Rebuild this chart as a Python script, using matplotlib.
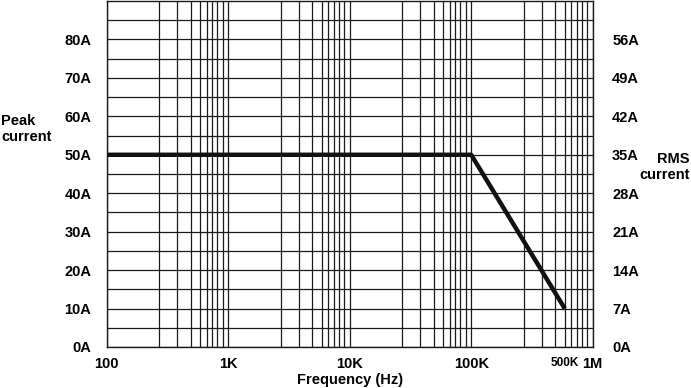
import numpy as np
import matplotlib
matplotlib.use("Agg")
import matplotlib.pyplot as plt
from matplotlib.ticker import FixedLocator, NullFormatter

plt.rcParams['font.family'] = ['Liberation Sans', 'DejaVu Sans']
plt.rcParams['font.weight'] = 'bold'

# Data
freq_hz = [100, 100e3, 500e3]
peak_current_a = [50, 50, 10]
x_tick_values = [100, 1e3, 1e4, 1e5, 5e5, 1e6]
x_tick_labels = ["100", "1K", "10K", "100K", "500K", "1M"]
left_ticks = [0, 10, 20, 30, 40, 50, 60, 70, 80]
left_labels = ["0A", "10A", "20A", "30A", "40A", "50A", "60A", "70A", "80A"]
right_ticks = [0, 7, 14, 21, 28, 35, 42, 49, 56]
right_labels = ["0A", "7A", "14A", "21A", "28A", "35A", "42A", "49A", "56A"]

# Hand-drawn log grid of the original: mantissa -> fraction of decade
mant = np.array([1, 2, 3, 4, 5, 6, 7, 8, 9, 10], dtype=float)
frac = np.array([0, 0.433, 0.581, 0.691, 0.770, 0.823, 0.869, 0.910, 0.955, 1.0])

def fwd(x):
    x = np.clip(np.asarray(x, dtype=float), 1e-12, None)
    l = np.log10(x)
    d = np.floor(l + 1e-12)
    m = 10 ** (l - d)
    return d + np.interp(m, mant, frac)

def inv(y):
    y = np.asarray(y, dtype=float)
    d = np.floor(y + 1e-12)
    f = y - d
    return np.interp(f, frac, mant) * 10 ** d

FS = 10.5

fig = plt.figure(figsize=(6.91, 3.88), dpi=100)
ax = fig.add_axes([106.7/691, 1 - 347/388, (592.7-106.7)/691, (347-1)/388])
ax.set_xscale('function', functions=(fwd, inv))
ax.set_xlim(100, 1e6)
ax.set_ylim(0, 90)

minor = [k * 10 ** d for d in range(2, 6) for k in range(2, 10)]
ax.xaxis.set_major_locator(FixedLocator(x_tick_values))
ax.xaxis.set_minor_locator(FixedLocator(minor))
ax.xaxis.set_minor_formatter(NullFormatter())
ax.set_xticklabels(x_tick_labels)
ax.set_yticks(left_ticks)
ax.set_yticklabels(left_labels)
ax.yaxis.set_minor_locator(FixedLocator(list(range(5, 90, 10))))

ax.grid(True, which='both', color='#1a1a1a', linewidth=0.9)
ax.tick_params(axis='both', which='both', length=0)
ax.tick_params(axis='y', pad=11, labelsize=FS)
ax.tick_params(axis='x', pad=7, labelsize=FS)
for lbl in ax.get_xticklabels():
    lbl.set_fontweight('bold')
    if lbl.get_text() == "500K":
        lbl.set_fontsize(8.5)
for lbl in ax.get_yticklabels():
    lbl.set_fontweight('bold')
for s in ax.spines.values():
    s.set_color('#1a1a1a')
    s.set_linewidth(1.0)

ax.plot(freq_hz, peak_current_a, color='#111111', linewidth=3.2, solid_capstyle='butt', zorder=5)

ax2 = ax.twinx()
ax2.set_ylim(0, 63)
ax2.set_yticks(right_ticks)
ax2.set_yticklabels(right_labels, fontweight='bold')
ax2.tick_params(axis='y', length=0, pad=14, labelsize=FS)
for s in ax2.spines.values():
    s.set_visible(False)

fig.text(0.5 * (106.7 + 592.7) / 691, 1 - 380/388, "Frequency (Hz)",
         ha='center', va='center', fontsize=FS, fontweight='bold')
fig.text(1/691, 1 - 129/388, "Peak\ncurrent", ha='left', va='center',
         fontsize=FS, fontweight='bold', linespacing=1.2)
fig.text(690/691, 1 - 167/388, "RMS\ncurrent", ha='right', va='center',
         fontsize=FS, fontweight='bold', linespacing=1.2, multialignment='right')

fig.savefig("out.png", dpi=100)
